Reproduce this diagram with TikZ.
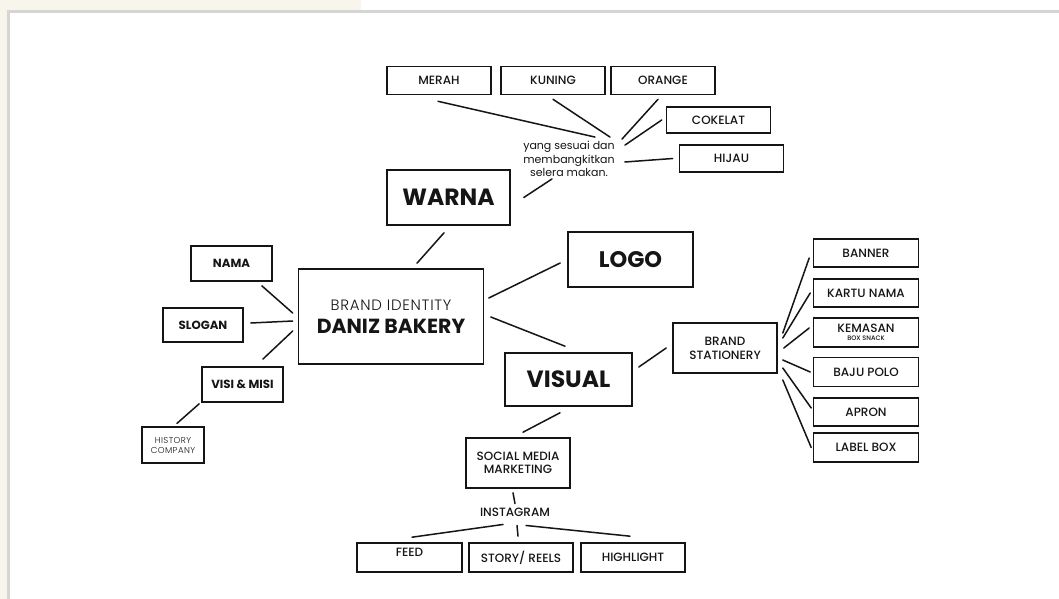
\documentclass[tikz,border=0pt]{standalone}
\usepackage{fontspec}
\setmainfont{Poppins}[UprightFont=* Medium, BoldFont=* Bold]
\newfontfamily\tipis{Poppins}[UprightFont=* Light, LetterSpace=5]
\newfontfamily\polos{Poppins}
\definecolor{krem}{HTML}{F8F5EC}
\definecolor{bingkai}{HTML}{D5D5D5}
\definecolor{tinta}{HTML}{151515}

\tikzset{
    kotak/.style={draw=tinta, line width=1.6pt, minimum width=104pt, minimum height=28pt,
        inner sep=0pt, align=center, text=tinta, font=\fontsize{12}{14}\selectfont},
    judul/.style={kotak, font=\bfseries\fontsize{23.5}{26}\selectfont},
    kecil/.style={kotak, minimum width=81pt, minimum height=35pt, font=\bfseries\fontsize{11.8}{14}\selectfont},
    garis/.style={draw=tinta, line width=1.5pt, line cap=round}
}

\begin{document}
\begin{tikzpicture}[x=1pt, y=-1pt]
    \useasboundingbox (0,0) rectangle (1059,599);
    \fill[white] (0,0) rectangle (1059,599);
    \fill[krem] (0,0) rectangle (361,10);
    \fill[krem] (0,0) rectangle (7,599);
    \draw[bingkai, line width=2.5pt] (1059,11.5) -- (8.5,11.5) -- (8.5,599);

    % warna
    \path node[kotak] (merah) at (439,80.5) {MERAH}
        node[kotak] (kuning) at (553,80.5) {KUNING}
        node[kotak] (orange) at (663,80.5) {ORANGE}
        node[kotak, minimum height=26pt] (cokelat) at (718.5,120) {COKELAT}
        node[kotak, minimum height=27pt] (hijau) at (731.5,158.5) {HIJAU}
        node[inner sep=0pt, align=center, text=tinta, font=\polos\fontsize{11}{13.5}\selectfont] (ket) at (569,159)
            {yang sesuai dan\\membangkitkan\\selera makan.}
        node[judul, minimum width=123pt, minimum height=55pt] (warna) at (448.5,197.5) {WARNA};

    % pusat
    \path node[kotak, minimum width=185pt, minimum height=95pt, font=\fontsize{20.4}{23}\selectfont] (pusat) at (391,316.5)
            {{\tipis\fontsize{15}{16}\selectfont BRAND IDENTITY}\\{\bfseries DANIZ BAKERY}}
        node[kecil] (nama) at (231.5,263.5) {NAMA}
        node[kecil, minimum width=80pt, minimum height=34pt] (slogan) at (203,325) {SLOGAN}
        node[kecil] (visi) at (242.5,384.5) {VISI \& MISI}
        node[kotak, line width=1.3pt, minimum width=62pt, minimum height=36pt, font=\tipis\fontsize{8.6}{10}\selectfont] (sejarah) at (173,445)
            {HISTORY\\COMPANY}
        node[judul, minimum width=125pt, minimum height=55pt, font=\bfseries\fontsize{22.5}{25}\selectfont] (logo) at (630.5,259.5) {LOGO}
        node[judul, minimum width=127pt, minimum height=53pt] (visual) at (568.5,379.5) {VISUAL};

    % stationery
    \path node[kotak, minimum height=50pt, font=\fontsize{12}{14}\selectfont] (stationery) at (725,348) {BRAND\\STATIONERY}
        node[kotak, minimum width=105pt] (banner) at (866,253) {BANNER}
        node[kotak, minimum width=105pt] (kartu) at (866,293) {KARTU NAMA}
        node[kotak, minimum width=105pt, minimum height=29pt] (kemasan) at (866,332.5)
            {KEMASAN\\[-6pt]{\fontsize{6.5}{7}\selectfont BOX SNACK}}
        node[kotak, minimum width=105pt, minimum height=29pt] (polo) at (866,372) {BAJU POLO}
        node[kotak, minimum width=105pt] (apron) at (866,412) {APRON}
        node[kotak, minimum width=105pt, minimum height=29pt] (label) at (866,447.5) {LABEL BOX};

    % sosial media
    \path node[kotak, minimum height=50pt, font=\fontsize{12}{13.5}\selectfont] (smm) at (518,463) {SOCIAL MEDIA\\MARKETING}
        node[inner sep=0pt, text=tinta, font=\fontsize{12}{13}\selectfont] (instagram) at (515,512) {INSTAGRAM}
        node[kotak, minimum width=105pt, minimum height=29pt, text depth=11pt] (feed) at (409.5,557.5) {FEED}
        node[kotak, minimum height=29pt] (story) at (521,557.5) {STORY/ REELS}
        node[kotak, minimum height=29pt] (highlight) at (633,557.5) {HIGHLIGHT};

    \draw[garis] ([shift={(-1,6)}]merah.south) -- ([shift={(26,-4)}]ket.north);
    \draw[garis] ([shift={(0,4)}]kuning.south) -- ([shift={(41,-4)}]ket.north);
    \draw[garis] ([shift={(-5,4)}]orange.south) -- ([shift={(53,-2)}]ket.north);
    \draw[garis] ([shift={(-4,0)}]cokelat.west) -- ([shift={(56,4)}]ket.north);
    \draw[garis] ([shift={(-6,0)}]hijau.west) -- ([shift={(10,3)}]ket.east);
    \draw[garis] ([shift={(13,0)}]warna.east) -- ([shift={(-17,2)}]ket.south);

    \draw[garis] ([shift={(26,-5)}]pusat.north) -- ([shift={(-4.5,7)}]warna.south);
    \draw[garis] ([shift={(-11,4)}]nama.south east) -- ([shift={(-5,-3.5)}]pusat.west);
    \draw[garis] ([shift={(7,-2)}]slogan.east) -- ([shift={(-5,4.5)}]pusat.west);
    \draw[garis] ([shift={(-21,-7)}]visi.north east) -- ([shift={(-5,14.5)}]pusat.west);
    \draw[garis] ([shift={(-2,1)}]visi.south west) -- ([shift={(4,-3)}]sejarah.north);
    \draw[garis] ([shift={(4.5,-18.5)}]pusat.east) -- ([shift={(-7,3.5)}]logo.west);
    \draw[garis] ([shift={(6.5,0.5)}]pusat.east) -- ([shift={(-3.5,-6)}]visual.north);

    \draw[garis] ([shift={(6,-12.5)}]visual.east) -- ([shift={(-6,0)}]stationery.west);
    \draw[garis] ([shift={(5,-15)}]stationery.east) -- ([shift={(-3.5,5)}]banner.west);
    \draw[garis] ([shift={(5,-10)}]stationery.east) -- ([shift={(-2.5,0)}]kartu.west);
    \draw[garis] ([shift={(6,0)}]stationery.east) -- ([shift={(-3.5,-4.5)}]kemasan.west);
    \draw[garis] ([shift={(5,12)}]stationery.east) -- ([shift={(-2.5,0)}]polo.west);
    \draw[garis] ([shift={(5,20)}]stationery.east) -- ([shift={(-1.5,-4)}]apron.west);
    \draw[garis] ([shift={(5,32)}]stationery.east) -- ([shift={(-1.5,0)}]label.west);

    \draw[garis] ([shift={(-8.5,6)}]visual.south) -- ([shift={(5,-5)}]smm.north);
    \draw[garis] ([shift={(-5,4)}]smm.south) -- ([shift={(0,-4)}]instagram.north);
    \draw[garis] ([shift={(-12,8)}]instagram.south) -- ([shift={(2.5,-5)}]feed.north);
    \draw[garis] ([shift={(2,9)}]instagram.south) -- ([shift={(-3,-6)}]story.north);
    \draw[garis] ([shift={(11,9)}]instagram.south) -- ([shift={(-3,-6)}]highlight.north);
\end{tikzpicture}
\end{document}
